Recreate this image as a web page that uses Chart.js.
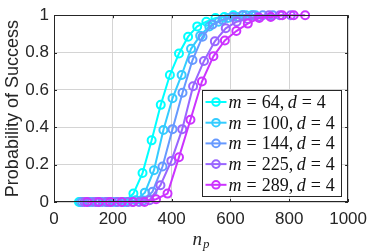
<!DOCTYPE html>
<html>
<head>
<meta charset="utf-8">
<script src="https://cdn.jsdelivr.net/npm/chart.js@4/dist/chart.umd.min.js"></script>
<style>
html,body{margin:0;padding:0;background:#fff}
canvas{display:block}
</style>
</head>
<body>
<canvas id="c" width="374" height="252"></canvas>
<script>
// values
const mVals = [64, 100, 144, 225, 289]
const dVal = 4

const np64  = [85,116,147,178,209,240,270,301,332,363,394,425,456,487,518,549,579,610,641,672]
const ps64  = [0,0,0,0,0,0,0.045,0.155,0.33,0.52,0.68,0.795,0.885,0.94,0.965,0.985,0.99,1,1,1]
const np100 = [90,121,153,184,215,247,278,309,340,372,403,434,466,497,528,560,591,622,653,685]
const ps100 = [0,0,0,0,0,0,0.01,0.05,0.17,0.385,0.555,0.68,0.82,0.89,0.94,0.965,0.985,0.99,1,1]
const np144 = [96,130,164,198,232,267,301,335,369,403,437,471,505,539,573,608,642,676,710,744]
const ps144 = [0,0,0,0,0,0,0.005,0.055,0.19,0.39,0.585,0.76,0.885,0.95,0.975,0.99,1,1,1,1]
const np225 = [104,141,178,215,252,289,325,362,399,436,473,510,547,584,621,658,694,731,768,805]
const ps225 = [0,0,0,0,0,0,0.01,0.09,0.22,0.39,0.62,0.755,0.86,0.93,0.965,0.98,0.99,1,1,1]
const np289 = [113,152,191,230,269,308,347,386,425,464,503,542,581,620,659,698,737,776,815,854]
const ps289 = [0,0,0,0,0,0,0.015,0.045,0.24,0.44,0.645,0.78,0.865,0.915,0.955,0.985,0.99,1,1,1]

const xTicks = [0, 200, 400, 600, 800, 1000]
const yTicks = [0, 0.2, 0.4, 0.6, 0.8, 1]

const colors = ['#00ffff', '#33ccff', '#6699ff', '#9966ff', '#cc33ff']
const series = [[np64, ps64], [np100, ps100], [np144, ps144], [np225, ps225], [np289, ps289]]
const ink = '#262626'

const pts = (xs, ys) => xs.map((x, i) => ({x, y: ys[i]}))

function drawParts(ctx, parts, x, y){
  for (const [t, italic, gap] of parts) {
    ctx.font = (italic ? 'italic ' : '') + '18px "Liberation Serif"'
    ctx.fillText(t, x, y)
    x += ctx.measureText(t).width + gap
  }
}

const decor = {
  id: 'decor',
  afterDraw(chart){
    const {ctx, chartArea: a, scales} = chart
    ctx.save()
    // frame + inward ticks
    ctx.strokeStyle = ink
    ctx.lineWidth = 1
    ctx.strokeRect(Math.round(a.left) + 0.5, Math.round(a.top) + 0.5, Math.round(a.right - a.left) - 1, Math.round(a.bottom - a.top) - 1)
    ctx.beginPath()
    xTicks.forEach(v => {
      const px = Math.round(scales.x.getPixelForValue(v)) + 0.5
      ctx.moveTo(px, a.bottom); ctx.lineTo(px, a.bottom - 3)
      ctx.moveTo(px, a.top); ctx.lineTo(px, a.top + 3)
    })
    yTicks.forEach(v => {
      const py = Math.round(scales.y.getPixelForValue(v)) + 0.5
      ctx.moveTo(a.left, py); ctx.lineTo(a.left + 3, py)
      ctx.moveTo(a.right, py); ctx.lineTo(a.right - 3, py)
    })
    ctx.stroke()

    // y title
    ctx.fillStyle = ink
    ctx.font = '18px "Liberation Sans"'
    ctx.textAlign = 'center'
    ctx.textBaseline = 'middle'
    ctx.translate(13, (a.top + a.bottom) / 2)
    ctx.rotate(-Math.PI / 2)
    ctx.fillText('Probability of Success', 0, 0)
    ctx.setTransform(1, 0, 0, 1, 0, 0)

    // x title n_p
    ctx.textAlign = 'left'
    ctx.textBaseline = 'alphabetic'
    ctx.font = 'italic 19px "Liberation Serif"'
    const wn = ctx.measureText('n').width
    ctx.font = 'italic 13px "Liberation Serif"'
    const wp = ctx.measureText('p').width
    const cx = (a.left + a.right) / 2 - (wn + wp + 1) / 2
    ctx.font = 'italic 19px "Liberation Serif"'
    ctx.fillText('n', cx, 245)
    ctx.font = 'italic 13px "Liberation Serif"'
    ctx.fillText('p', cx + wn + 1, 247.5)

    // legend
    const bw = 139, bh = 106
    const bx = Math.round(a.right - 7 - bw) + 0.5, by = Math.round(a.bottom - 6 - bh) + 0.5
    ctx.fillStyle = '#fff'
    ctx.fillRect(bx, by, bw, bh)
    ctx.lineWidth = 1
    ctx.strokeStyle = ink
    ctx.strokeRect(bx, by, bw, bh)
    mVals.forEach((m, i) => {
      const ry = by + 11.5 + i * 20.7
      ctx.strokeStyle = colors[i]
      ctx.lineWidth = 2
      ctx.beginPath()
      ctx.moveTo(bx + 3, ry); ctx.lineTo(bx + 24, ry)
      ctx.stroke()
      ctx.beginPath()
      ctx.arc(bx + 13.5, ry, 3.8, 0, Math.PI * 2)
      ctx.stroke()
      ctx.fillStyle = '#111'
      drawParts(ctx, [['m', true, 5], ['=', false, 5], [m + ',', false, 3.5], ['d', true, 5], ['=', false, 5], [String(dVal), false, 0]], bx + 26, ry + 6)
    })
    ctx.restore()
  }
}

new Chart(document.getElementById('c'), {
  type: 'line',
  data: {
    datasets: series.map(([xs, ys], i) => ({
      label: 'm = ' + mVals[i] + ', d = ' + dVal,
      data: pts(xs, ys),
      borderColor: colors[i],
      backgroundColor: colors[i],
      borderWidth: 2,
      pointRadius: 4,
      pointBorderWidth: 2,
      pointBackgroundColor: 'rgba(0,0,0,0)',
      pointBorderColor: colors[i],
      tension: 0,
      clip: false,
      order: mVals.length - i
    }))
  },
  options: {
    responsive: false,
    animation: false,
    devicePixelRatio: 1,
    layout: {padding: {left: 0, right: 18, top: 10, bottom: 0}},
    plugins: {legend: {display: false}, tooltip: {enabled: false}},
    scales: {
      x: {
        type: 'linear', min: 0, max: 1000,
        afterBuildTicks: s => { s.ticks = xTicks.map(v => ({value: v})) },
        afterFit: s => { s.height = 50 },
        ticks: {color: ink, padding: 7, font: {family: 'Liberation Sans', size: 17}, callback: v => String(v)},
        grid: {color: '#d4d4d4', drawTicks: false},
        border: {display: false}
      },
      y: {
        type: 'linear', min: 0, max: 1,
        afterBuildTicks: s => { s.ticks = yTicks.map(v => ({value: v})) },
        afterFit: s => { s.width = 54 },
        ticks: {color: ink, padding: 5, font: {family: 'Liberation Sans', size: 17}, callback: v => String(v)},
        grid: {color: '#d4d4d4', drawTicks: false},
        border: {display: false}
      }
    }
  },
  plugins: [decor]
})
</script>
</body>
</html>
